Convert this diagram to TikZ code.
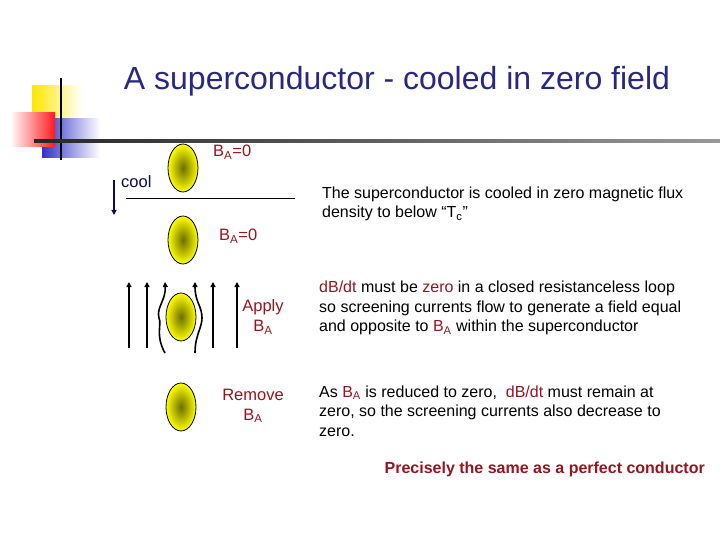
\documentclass[tikz,border=0pt]{standalone}
\usepackage{fontspec}
\setmainfont{Liberation Sans}
\usetikzlibrary{arrows.meta,shapes.geometric}
\definecolor{ttl}{RGB}{40,40,130}
\definecolor{rd}{RGB}{150,20,30}
\definecolor{nv}{RGB}{10,10,90}
\begin{document}
\begin{tikzpicture}[x=1pt,y=-1pt,
  sc/.style={draw=black,line width=0.8pt,inner color={rgb,255:red,110;green,110;blue,0},outer color=yellow,ellipse,minimum width=30pt,minimum height=48pt,inner sep=0},
  txt/.style={font=\fontsize{16}{19.5}\selectfont,anchor=west,align=left,inner sep=0},
  rtxt/.style={font=\fontsize{16.5}{20}\selectfont,text=rd,align=center,inner sep=0},
  fl/.style={line width=1.6pt,-{Triangle[length=5pt,width=5pt]}}]
\useasboundingbox (0,0) rectangle (720,540);
% decoration
\shade[left color=yellow!80!orange,right color=white] (32,86) rectangle (82,119);
\shade[left color={rgb,255:red,50;green,50;blue,200},right color=white] (42,119) rectangle (100,158);
\shade[left color=white,right color=red!90] (10,113) rectangle (55,147);
\draw[line width=2pt] (61,78) -- (61,160);
\shade[left color=black!85,right color=black!40] (34,140) rectangle (720,143);
\node[font=\fontsize{32}{36}\selectfont,text=ttl] (title) at (397,81) {A superconductor - cooled in zero field};
% ellipses
\node[sc] (e1) at (183,168) {};
\node[sc] (e2) at (183,240) {};
\node[sc] (e3) at (181,317) {};
\node[sc] (e4) at (181,407) {};
\node[rtxt,anchor=west] (b1) at (213,152) {B\textsubscript{A}=0};
\node[rtxt,anchor=west] (b2) at (219,236) {B\textsubscript{A}=0};
\node[font=\fontsize{16.5}{20}\selectfont,text=nv,anchor=west,inner sep=0] (cool) at (121,182) {cool};
\coordinate (ca) at (114,180); \coordinate (cb) at (114,215);
\draw[nv,line width=1.3pt,-{Triangle[length=5pt,width=5pt]}] (ca) -- (cb);
\coordinate (h1) at (126,198); \coordinate (h2) at (295,198);
\draw[line width=0.8pt] (h1) -- (h2);
% field lines
\foreach \x/\n in {129/a,147/b,213/c,237/d}{
  \coordinate (\n0) at (\x,348); \coordinate (\n1) at (\x,282);
  \draw[fl] (\n0) -- (\n1);}
\coordinate (l0) at (165,353); \coordinate (l1) at (165,282);
\draw[fl] (l0) .. controls (155,335) and (162,325) .. (159,318) .. controls (156,308) and (166,300) .. (l1);
\coordinate (r0) at (195,353); \coordinate (r1) at (195,282);
\draw[fl] (r0) .. controls (195,335) and (202,328) .. (202,318) .. controls (202,306) and (195,302) .. (r1);
\node[rtxt] (ap) at (263,317) {Apply\\B\textsubscript{A}};
\node[rtxt] (rm) at (253,406) {Remove\\B\textsubscript{A}};
% right texts
\node[txt] (t1) at (322,204) {The superconductor is cooled in zero magnetic flux\\density to below ``T\textsubscript{c}''};
\node[txt] (t2) at (319,308) {\textcolor{rd}{dB/dt} must be \textcolor{rd}{zero} in a closed resistanceless loop\\so screening currents flow to generate a field equal\\and opposite to \textcolor{rd}{B\textsubscript{A}} within the superconductor};
\node[txt] (t3) at (319,411) {As \textcolor{rd}{B\textsubscript{A}} is reduced to zero,\ \ \textcolor{rd}{dB/dt} must remain at\\zero, so the screening currents also decrease to\\zero.};
\node[font=\bfseries\fontsize{16}{19.5}\selectfont,text=rd,anchor=east,inner sep=0] (pr) at (705,469) {Precisely the same as a perfect conductor};
\end{tikzpicture}
\end{document}
